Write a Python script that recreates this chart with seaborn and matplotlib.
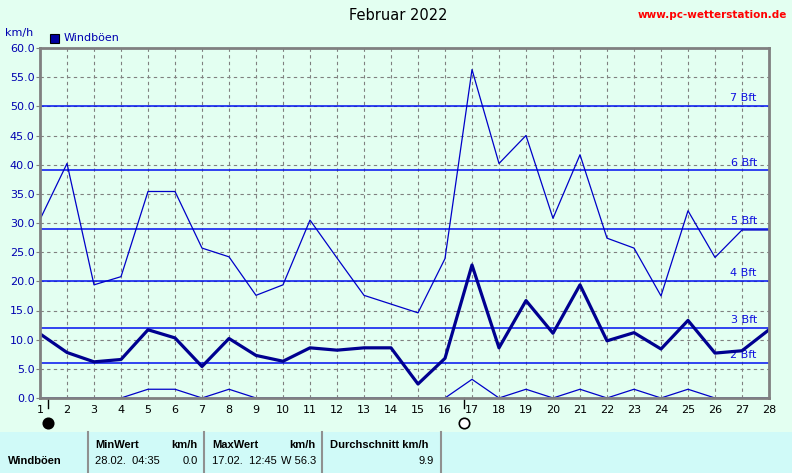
import numpy as np
import pandas as pd
import matplotlib
matplotlib.use("Agg")
import matplotlib.pyplot as plt
import seaborn as sns
from matplotlib.patches import Rectangle
from matplotlib.lines import Line2D

# Windboeen Februar 2022 (km/h)
days = list(range(1, 29))
boeen_max = [30.6, 40.2, 19.4, 20.8, 35.4, 35.4, 25.7, 24.2, 17.6, 19.4,
             30.5, 24.0, 17.6, 16.1, 14.6, 23.9, 56.3, 40.2, 45.0, 30.8,
             41.7, 27.4, 25.7, 17.5, 32.1, 24.1, 28.8, 28.8]
boeen_mittel = [11.0, 7.8, 6.2, 6.6, 11.7, 10.3, 5.4, 10.2, 7.3, 6.3,
                8.6, 8.2, 8.6, 8.6, 2.4, 6.8, 22.8, 8.6, 16.7, 11.1,
                19.4, 9.8, 11.2, 8.4, 13.3, 7.7, 8.1, 11.7]
boeen_min = [0.0, 0.0, 0.0, 0.0, 1.5, 1.5, 0.0, 1.5, 0.0, 0.0,
             0.0, 0.0, 0.0, 0.0, 0.0, 0.0, 3.2, 0.0, 1.5, 0.0,
             1.5, 0.0, 1.5, 0.0, 1.5, 0.0, 0.0, 0.0]
bft_levels = [6, 12, 20, 29, 39, 50]
bft_labels = ["2 Bft", "3 Bft", "4 Bft", "5 Bft", "6 Bft", "7 Bft"]
neumond = 1.3
vollmond = 16.7

df = pd.DataFrame({"Tag": days, "max": boeen_max, "mittel": boeen_mittel, "min": boeen_min})

bg = "#E3FFF1"
tbl = "#D0FAF8"
blue_txt = "#0000B0"

plt.rcParams["font.family"] = ["DejaVu Sans"]
fig = plt.figure(figsize=(7.92, 4.73), dpi=100, facecolor=bg)
W, H = 792, 473
ax = fig.add_axes([40 / W, 1 - 398 / H, 729 / W, 350 / H])
ax.set_facecolor(bg)

# grid
for v in np.arange(5, 60, 5):
    ax.axhline(v, color="#808080", lw=0.8, ls=(0, (3, 3)), zorder=1)
for d in days[1:-1]:
    ax.axvline(d, color="#808080", lw=0.8, ls=(0, (3, 3)), zorder=1)

# Beaufort lines
for lvl, lab in zip(bft_levels, bft_labels):
    ax.axhline(lvl, color="#0010F0", lw=1.1, zorder=2)
    ax.text(27.55, lvl + 0.5, lab, color="#1010E0", fontsize=8, ha="right", va="bottom", zorder=3)

sns.lineplot(data=df, x="Tag", y="max", ax=ax, color="#0000C8", lw=0.9, zorder=4)
sns.lineplot(data=df, x="Tag", y="min", ax=ax, color="#0000C8", lw=0.9, zorder=4)
sns.lineplot(data=df, x="Tag", y="mittel", ax=ax, color="#000090", lw=2.3, zorder=5)

ax.set_xlim(1, 28)
ax.set_ylim(0, 60)
ax.set_xticks(days)
ax.set_xticklabels([str(d) for d in days])
ax.set_yticks(np.arange(0, 61, 5))
ax.set_yticklabels([f"{v:.1f}" for v in np.arange(0, 61, 5)])
ax.tick_params(axis="x", length=0, pad=5, labelsize=8, colors="black")
ax.tick_params(axis="y", length=3, pad=1, labelsize=8, colors="#808080", labelcolor=blue_txt)
ax.set_xlabel("")
ax.set_ylabel("")
for s in ax.spines.values():
    s.set_color("#808080")
    s.set_linewidth(2)
    s.set_zorder(6)

# moon phases
tr = ax.get_xaxis_transform()
for x, fc in [(neumond, "black"), (vollmond, "white")]:
    ax.add_line(Line2D([x, x], [0, -0.028], transform=tr, color="black", lw=1, clip_on=False))
    ax.plot([x], [-0.072], transform=tr, marker="o", ms=7.5, mfc=fc, mec="black",
            mew=1.2, clip_on=False)

# header texts
fig.text(398 / W, 1 - 15 / H, "Februar 2022", fontsize=10.5, ha="center", va="center")
fig.text(787 / W, 1 - 15 / H, "www.pc-wetterstation.de", fontsize=7.5, fontweight="bold",
         color="#FF0000", ha="right", va="center",
         family=["Liberation Sans Narrow", "DejaVu Sans"])
fig.text(5 / W, 1 - 33 / H, "km/h", fontsize=8, color=blue_txt, ha="left", va="center")
fig.add_artist(Rectangle((50 / W, 1 - 43 / H), 9 / W, 9 / H, transform=fig.transFigure,
                         facecolor="#0000A0", edgecolor="black", lw=0.8))
fig.text(64 / W, 1 - 38 / H, "Windböen", fontsize=8, color=blue_txt, ha="left", va="center")

# table
fig.add_artist(Rectangle((0, 0), 1, 41 / H, transform=fig.transFigure,
                         facecolor=tbl, edgecolor="none"))
for xs in [88, 204, 322, 441]:
    fig.add_artist(Line2D([xs / W, xs / W], [0, 41 / H], transform=fig.transFigure,
                          color="#909090", lw=1.5))
y1 = 1 - 445 / H
y2 = 1 - 461 / H
tf = dict(fontsize=8, va="center", family=["Liberation Sans", "DejaVu Sans"])
fig.text(8 / W, y2, "Windböen", fontweight="bold", **tf)
fig.text(95 / W, y1, "MinWert", fontweight="bold", **tf)
fig.text(198 / W, y1, "km/h", fontweight="bold", ha="right", **tf)
fig.text(95 / W, y2, "28.02.  04:35", **tf)
fig.text(198 / W, y2, "0.0", ha="right", **tf)
fig.text(212 / W, y1, "MaxWert", fontweight="bold", **tf)
fig.text(316 / W, y1, "km/h", fontweight="bold", ha="right", **tf)
fig.text(212 / W, y2, "17.02.  12:45", **tf)
fig.text(316 / W, y2, "W 56.3", ha="right", **tf)
fig.text(330 / W, y1, "Durchschnitt km/h", fontweight="bold", **tf)
fig.text(434 / W, y2, "9.9", ha="right", **tf)

fig.savefig("out.png", dpi=100, facecolor=bg)
